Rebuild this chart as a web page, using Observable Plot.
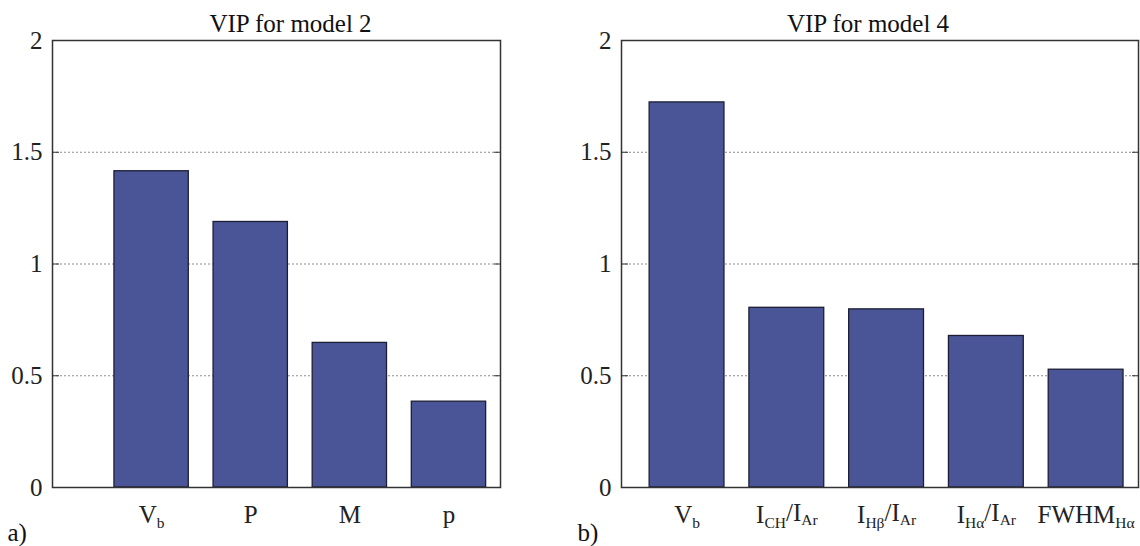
<!DOCTYPE html>
<html>
<head>
<meta charset="utf-8">
<script src="https://cdn.jsdelivr.net/npm/d3@7"></script>
<script src="https://cdn.jsdelivr.net/npm/@observablehq/plot@0.6"></script>
<style>
  body { margin: 0; background: #fff; }
  #wrap { display: flex; width: 1140px; height: 546px; }
</style>
</head>
<body>
<div id="wrap"></div>
<script>
// ---- data ----
const titles = ["VIP for model 2", "VIP for model 4"];
const panelLabels = ["a)", "b)"];
const categories2 = ["V_b", "P", "M", "p"];
const values2 = [1.415, 1.188, 0.647, 0.384];
const categories4 = ["V_b", "I_CH/I_Ar", "I_Hβ/I_Ar", "I_Hα/I_Ar", "FWHM_Hα"];
const values4 = [1.723, 0.804, 0.797, 0.678, 0.527];
const yTicks = [0, 0.5, 1, 1.5, 2];
const gridValues = [0.5, 1, 1.5];

const barColor = "#4a5598";
const font = 25;
const serif = "'Liberation Serif', 'DejaVu Serif', serif";

function subscriptify(svg) {
  d3.select(svg).selectAll('g[aria-label="x-axis tick label"] text').each(function () {
    const s = this.textContent;
    const parts = s.split(/(_[^/]+)/).filter(p => p.length);
    const t = d3.select(this);
    t.text(null);
    let sub = false;
    parts.forEach(p => {
      if (p.startsWith("_")) {
        t.append("tspan").attr("font-size", "0.62em").attr("dy", sub ? null : "0.28em").text(p.slice(1));
        sub = true;
      } else {
        t.append("tspan").attr("dy", sub ? "-0.28em" : null).text(p);
        sub = false;
      }
    });
  });
  d3.select(svg).selectAll("text").attr("font-family", serif).style("font-family", serif);
  d3.select(svg).selectAll("g").style("font-family", serif);
}

function panel(cats, vals, title, lab, xDomain, mLeft, mRight, titleDx) {
  const data = cats.map((c, i) => ({pos: i + 1, cat: c, v: vals[i]}));
  const svg = Plot.plot({
    width: 570,
    height: 546,
    marginLeft: mLeft,
    marginRight: mRight,
    marginTop: 40,
    marginBottom: 59,
    style: {fontFamily: serif, fontSize: font + "px", color: "#222", background: "#fff", overflow: "visible"},
    x: {domain: xDomain, label: null},
    y: {domain: [0, 2], label: null},
    marks: [
      Plot.ruleY(gridValues, {stroke: "#8a8a8a", strokeWidth: 1, strokeDasharray: "2,2"}),
      Plot.rectY(data, {x1: d => d.pos - 0.375, x2: d => d.pos + 0.375, y1: 0, y2: "v", fill: barColor, stroke: "#1c1f33", strokeWidth: 1.3}),
      Plot.axisY({anchor: "left", ticks: yTicks, tickSize: -7, tickPadding: 17, tickFormat: d => String(d), fontSize: font, stroke: "#333", label: null}),
      Plot.axisY({anchor: "right", ticks: yTicks, tickSize: -7, tickFormat: null, text: null, stroke: "#333", label: null}),
      Plot.axisX({anchor: "bottom", ticks: data.map(d => d.pos), tickSize: 0, tickPadding: 18, tickFormat: p => cats[p - 1], fontSize: font, label: null}),
      Plot.frame({stroke: "#333", strokeWidth: 1.5}),
      Plot.text([title], {frameAnchor: "top", lineAnchor: "bottom", dy: -9, dx: titleDx, fontSize: font, fill: "#111"}),
      Plot.text([lab], {frameAnchor: "bottom-left", lineAnchor: "bottom", textAnchor: "start", dx: -mLeft + 7, dy: 53, fontSize: font, fill: "#111"})
    ]
  });
  subscriptify(svg);
  return svg;
}

const wrap = document.getElementById("wrap");
wrap.appendChild(panel(categories2, values2, titles[0], panelLabels[0], [0, 4.52], 52, 70, 14));
wrap.appendChild(panel(categories4, values4, titles[1], panelLabels[1], [0.343, 5.525], 51, 2, -12));
</script>
</body>
</html>
